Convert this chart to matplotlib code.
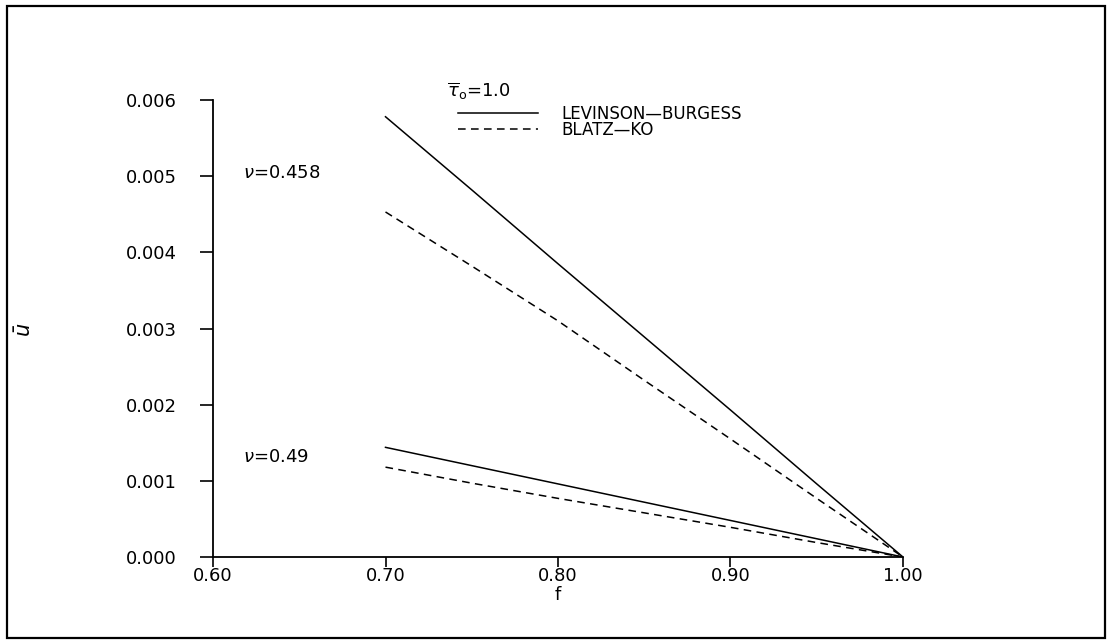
import numpy as np
import matplotlib
matplotlib.use("Agg")
from matplotlib import pyplot as plt
from matplotlib.patches import Rectangle

# values
f = [0.70, 0.75, 0.80, 0.85, 0.90, 0.95, 1.00]
lb_458 = [0.00578, 0.00482, 0.00385, 0.00289, 0.00193, 0.00096, 0.0]
bk_458 = [0.00453, 0.00382, 0.00310, 0.00232, 0.00155, 0.00077, 0.0]
lb_49 = [0.00144, 0.00120, 0.00096, 0.00072, 0.00048, 0.00024, 0.0]
bk_49 = [0.00118, 0.00097, 0.00077, 0.00058, 0.00039, 0.00019, 0.0]

xticks = [0.60, 0.70, 0.80, 0.90, 1.00]
yticks = [0.000, 0.001, 0.002, 0.003, 0.004, 0.005, 0.006]

plt.rcParams["font.family"] = "DejaVu Sans"
fs = 13
dash = (0, (5, 3.5))

fig = plt.figure(figsize=(11.1, 6.43), dpi=100)
ax = fig.add_axes([0.1919, 0.1337, 0.8135 - 0.1919, 0.8445 - 0.1337])

l1, = ax.plot(f, lb_458, color="black", lw=1.1, label="LEVINSON\u2014BURGESS")
l2, = ax.plot(f, bk_458, color="black", lw=1.1, linestyle=dash, label="BLATZ\u2014KO")
ax.plot(f, lb_49, color="black", lw=1.1)
ax.plot(f, bk_49, color="black", lw=1.1, linestyle=dash)

ax.set_xlim(0.6, 1.0)
ax.set_ylim(0.0, 0.006)
ax.set_xticks(xticks)
ax.set_xticklabels([f"{t:.2f}" for t in xticks])
ax.set_yticks(yticks)
ax.set_yticklabels([f"{t:.3f}" for t in yticks])
ax.spines["top"].set_visible(False)
ax.spines["right"].set_visible(False)
for s in ("left", "bottom"):
    ax.spines[s].set_linewidth(1.3)
ax.tick_params(axis="y", direction="out", length=9.5, width=1.2, pad=16.5, labelsize=fs)
ax.tick_params(axis="x", direction="out", length=7, width=1.2, pad=0, labelsize=fs)

ax.set_xlabel("f", fontsize=fs, labelpad=1)
fig.text(25 / 1110, 1 - 330 / 643, r"$\bar{u}$", rotation=90, fontsize=15,
         ha="center", va="center")

ax.text(0.6174, 0.00504, r"$\nu$=0.458", fontsize=fs, ha="left", va="center")
ax.text(0.6174, 0.00131, r"$\nu$=0.49", fontsize=fs, ha="left", va="center")
ax.text(0.7357, 0.00612, r"$\overline{\tau}_{\mathrm{o}}$=1.0", fontsize=fs,
        ha="left", va="center", clip_on=False)

ax.legend(handles=[l1, l2], loc="upper left", bbox_to_anchor=(458 / 1110, 1 - 105 / 643),
          bbox_transform=fig.transFigure, frameon=False, fontsize=12,
          handlelength=4.8, handletextpad=1.4, labelspacing=-0.12, borderpad=0,
          borderaxespad=0)

fig.patches.append(Rectangle((7 / 1110, 5 / 643), 1098 / 1110, 632 / 643,
                             transform=fig.transFigure, fill=False,
                             edgecolor="black", lw=1.6))

fig.savefig("out.png", dpi=100)
